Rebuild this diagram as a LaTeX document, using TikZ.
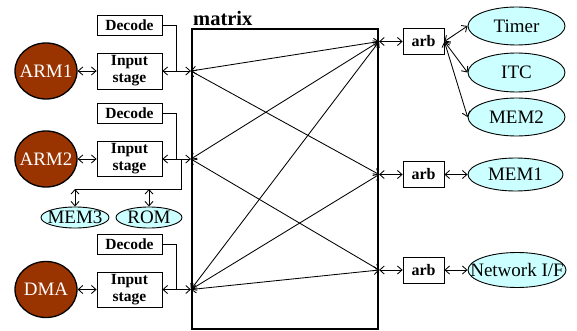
\documentclass[tikz,border=0pt]{standalone}
\usepackage{fontspec}
\setmainfont{Liberation Serif}
\usetikzlibrary{arrows.meta,shapes.geometric,calc}
\definecolor{brn}{RGB}{153,51,0}
\definecolor{cyn}{RGB}{204,255,255}
\begin{document}
\begin{tikzpicture}[x=1pt,y=-1pt,
 box/.style={draw,line width=0.8pt,inner sep=0,font=\fontsize{15.5}{17}\selectfont\bfseries,align=center,minimum width=65},
 cpu/.style={ellipse,draw,line width=1.3pt,fill=brn,minimum width=62,minimum height=56,inner sep=0,
   label={[text=white,font=\fontsize{19}{20}\selectfont]center:#1}},
 dev/.style={ellipse,draw,line width=0.9pt,fill=cyn,inner sep=0,
   label={[font=\fontsize{19}{20}\selectfont]center:#1}},
 arbbox/.style={draw,line width=0.8pt,inner sep=0,font=\fontsize{16}{16}\selectfont\bfseries,minimum width=41,minimum height=26},
 lnk/.style={line width=0.85pt},
 bi/.style={lnk,{Straight Barb[length=4.5pt,width=8pt]}-{Straight Barb[length=4.5pt,width=8pt]}}]
\useasboundingbox (0,0) rectangle (577,331);

% matrix
\node[draw,line width=2.2pt,minimum width=186,minimum height=300,inner sep=0] (mx) at (285,179) {};
\node[font=\fontsize{20.5}{20}\selectfont\bfseries,anchor=base west,inner sep=0] (mxl) at (193,26) {matrix};

% left side
\node[box,minimum height=20] (dec1) at (129.5,25) {Decode};
\node[box,minimum height=36] (in1) at (129.5,71) {Input\\stage};
\node[box,minimum height=20] (dec2) at (129.5,113) {Decode};
\node[box,minimum height=35] (in2) at (129.5,159) {Input\\stage};
\node[box,minimum height=20] (dec3) at (129.5,244) {Decode};
\node[box,minimum height=35] (in3) at (129.5,289.5) {Input\\stage};

\node[cpu=ARM1] (arm1) at (46,71) {};
\node[cpu=ARM2] (arm2) at (46,159) {};
\node[cpu=DMA] (dma) at (46,289.5) {};

\node[dev=MEM3,minimum width=68,minimum height=21] (mem3) at (75,217.5) {};
\node[dev=ROM,minimum width=66,minimum height=21] (rom) at (149,217.5) {};

% right side
\node[arbbox] (arb1) at (423.5,41.5) {arb};
\node[arbbox] (arb2) at (423.5,174.5) {arb};
\node[arbbox] (arb3) at (423.5,270) {arb};

\node[dev=Timer,minimum width=97,minimum height=38] (timer) at (516.5,26) {};
\node[dev=ITC,minimum width=97,minimum height=39] (itc) at (516.5,72.5) {};
\node[dev=MEM2,minimum width=97,minimum height=38] (mem2) at (516.5,117) {};
\node[dev=MEM1,minimum width=95,minimum height=33] (mem1) at (515.5,174.5) {};
\node[dev={Network I/F},minimum width=98,minimum height=35] (net) at (517,270) {};

% ports
\coordinate (L1) at (mx.west |- in1.east);
\coordinate (L2) at (mx.west |- in2.east);
\coordinate (L3) at (mx.west |- in3.east);
\coordinate (R1) at (mx.east |- arb1.west);
\coordinate (R2) at (mx.east |- arb2.west);
\coordinate (R3) at (mx.east |- arb3.west);

% left connectors
\draw[bi] (arm1.east) -- (in1.west);
\draw[bi] (arm2.east) -- (in2.west);
\draw[bi] (dma.east) -- (in3.west);
\draw[bi] (in1.east) -- (L1);
\draw[bi] (in2.east) -- (L2);
\draw[bi] (in3.east) -- (L3);
\draw[lnk] (dec1.east) -| ($(in1.east)!0.5!(L1)$);
\draw[lnk] (dec2.east) -| ($(in2.east)!0.5!(L2)$);
\draw[lnk] (dec3.east) -| ($(in3.east)!0.5!(L3)$);

% MEM3 / ROM bus
\coordinate (b1) at ($(in2.east)!0.67!(L2)$);
\coordinate (busL) at (mem3.north |- 0,189);
\draw[lnk] (b1) |- (busL);
\draw[bi] (busL) -- (mem3.north);
\draw[bi] (rom.north |- busL) -- (rom.north);

% matrix crossings
\draw[bi] (L1) -- (R1);
\draw[bi] (L1) -- (R2);
\draw[bi] (L2) -- (R1);
\draw[bi] (L2) -- (R3);
\draw[bi] (L3) -- (R1);
\draw[bi] (L3) -- (R2);
\draw[bi] (L3) -- (R3);

% right connectors
\draw[bi] (R1) -- (arb1.west);
\draw[bi] (R2) -- (arb2.west);
\draw[bi] (R3) -- (arb3.west);
\draw[bi] (arb1.east) -- (timer.west);
\draw[bi] (arb1.east) -- (itc.west);
\draw[bi] (arb1.east) -- (mem2.west);
\draw[bi] (arb2.east) -- (mem1.west);
\draw[bi] (arb3.east) -- (net.west);
\end{tikzpicture}
\end{document}
